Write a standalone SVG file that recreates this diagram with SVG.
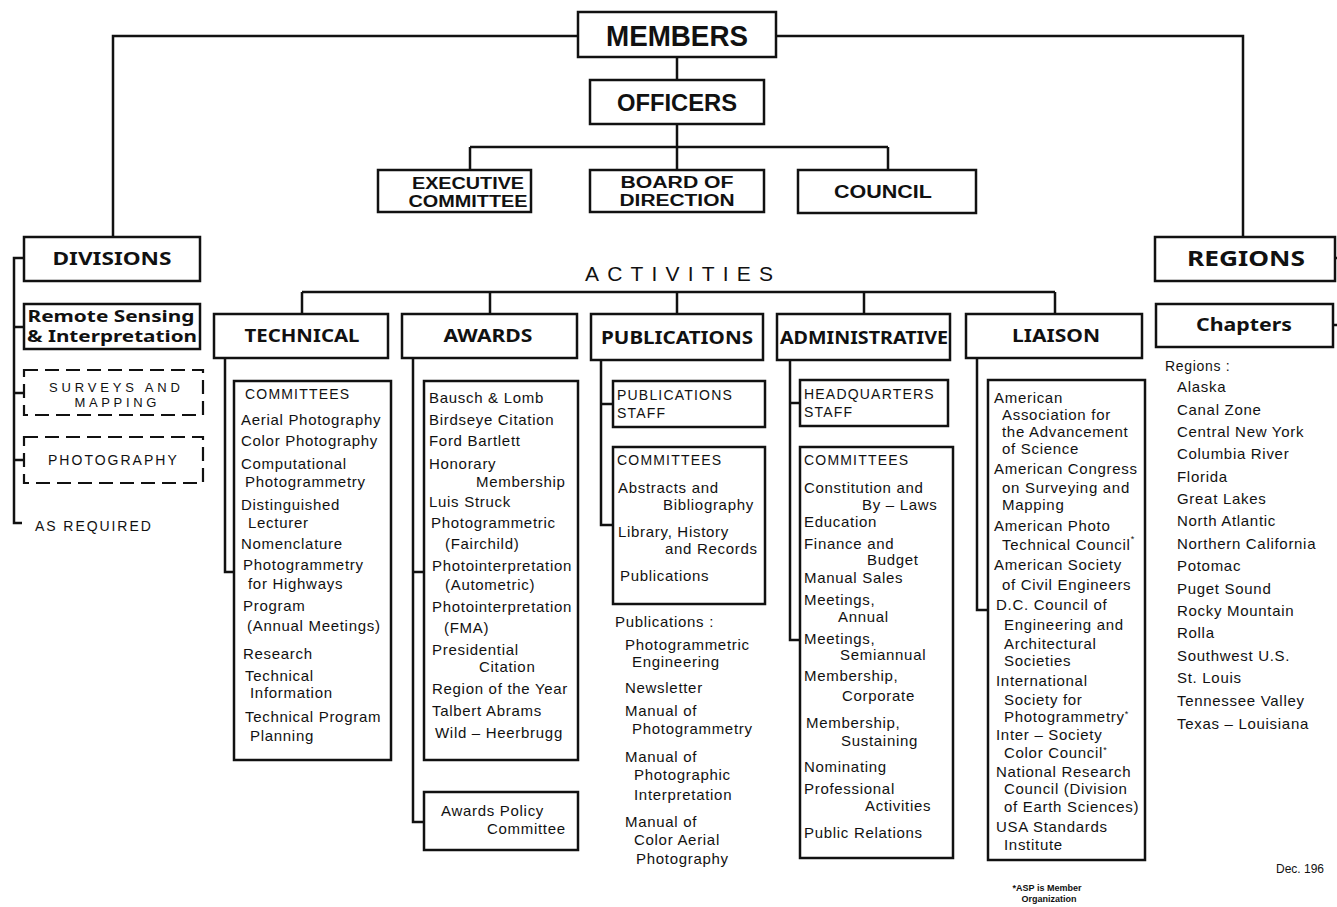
<svg xmlns="http://www.w3.org/2000/svg" width="1337" height="907" viewBox="0 0 1337 907">
<style>
.box{fill:#fff;stroke:#111;stroke-width:2.5}
.dash{fill:#fff;stroke:#111;stroke-width:2.2;stroke-dasharray:14 7}
.ln{fill:none;stroke:#111;stroke-width:2.5}
.hc{font-family:"Liberation Sans",Arial,sans-serif;font-weight:bold;text-anchor:middle;fill:#111}
.hb{font-family:"Noto Sans","DejaVu Sans",sans-serif;font-weight:bold;text-anchor:middle;fill:#111}
.t{font-family:"Liberation Sans",Arial,sans-serif;font-size:15px;letter-spacing:0.7px;fill:#111}
.c{font-family:"Liberation Sans",Arial,sans-serif;font-size:14px;letter-spacing:1.2px;fill:#111}
.sm{font-family:"Liberation Sans",Arial,sans-serif;font-size:9px;font-weight:bold;text-anchor:middle;fill:#111}
</style>
<rect width="1337" height="907" fill="#fff"/>

<g id="connectors">
<path class="ln" d="M578 36 H113 V237"/>
<path class="ln" d="M776 36 H1243 V237"/>
<path class="ln" d="M677 57 V80 M677 124 V147 M470 147 H888 M470 147 V170 M677 147 V170 M888 147 V170"/>
<path class="ln" d="M302 292 H1055 M302 292 V314 M490 292 V314 M677 292 V314 M864 292 V314 M1055 292 V314"/>
<path class="ln" d="M24 258 H14 V523 H22 M14 327 H24 M14 393 H24 M14 460 H24"/>
<path class="ln" d="M225 358 V572 H234"/>
<path class="ln" d="M413 358 V822 H424 M413 572 H424"/>
<path class="ln" d="M601 360 V525 H613 M601 404 H613"/>
<path class="ln" d="M790 360 V640 H800 M790 403 H800"/>
<path class="ln" d="M977 358 V610 H988"/>
<path class="ln" d="M1335 258 H1337 M1333 325 H1337"/>
</g>

<g id="members"><rect class="box" x="578" y="12" width="198" height="45"/>
<text class="hc" x="677" y="46" font-size="29" textLength="142" lengthAdjust="spacingAndGlyphs">MEMBERS</text></g>
<g id="officers"><rect class="box" x="590" y="80" width="174" height="44"/>
<text class="hc" x="677" y="111" font-size="23" textLength="120" lengthAdjust="spacingAndGlyphs">OFFICERS</text></g>
<g id="executive-committee"><rect class="box" x="378" y="170" width="153" height="42"/>
<text class="hc" x="468" y="189" font-size="16" textLength="112" lengthAdjust="spacingAndGlyphs">EXECUTIVE</text>
<text class="hc" x="468" y="207" font-size="16" textLength="119" lengthAdjust="spacingAndGlyphs">COMMITTEE</text></g>
<g id="board-of-direction"><rect class="box" x="590" y="170" width="174" height="42"/>
<text class="hc" x="677" y="188" font-size="16" textLength="113" lengthAdjust="spacingAndGlyphs">BOARD  OF</text>
<text class="hc" x="677" y="206" font-size="16" textLength="115" lengthAdjust="spacingAndGlyphs">DIRECTION</text></g>
<g id="council"><rect class="box" x="798" y="170" width="178" height="43"/>
<text class="hc" x="883" y="198" font-size="19" textLength="98" lengthAdjust="spacingAndGlyphs">COUNCIL</text></g>

<g id="activities"><text x="679" y="281" text-anchor="middle" font-family="Liberation Sans, Arial, sans-serif" font-size="21" fill="#111" textLength="188" lengthAdjust="spacing">ACTIVITIES</text></g>

<g id="divisions"><rect class="box" x="24" y="237" width="176" height="44"/>
<text class="hb" x="112" y="265" font-size="17" textLength="119" lengthAdjust="spacingAndGlyphs">DIVISIONS</text></g>
<g id="remote-sensing"><rect class="box" x="24" y="304" width="176" height="45"/>
<text class="hb" x="111" y="322" font-size="16" textLength="167" lengthAdjust="spacingAndGlyphs">Remote Sensing</text>
<text class="hb" x="112" y="342" font-size="16" textLength="170" lengthAdjust="spacingAndGlyphs">&amp; Interpretation</text></g>
<g id="surveys-mapping"><rect class="dash" x="24" y="370" width="179" height="45"/>
<text class="c" x="115" y="392" style="font-size:13px" text-anchor="middle" textLength="132" lengthAdjust="spacing">SURVEYS  AND</text>
<text class="c" x="116" y="407" style="font-size:13px" text-anchor="middle" textLength="83" lengthAdjust="spacing">MAPPING</text></g>
<g id="photography"><rect class="dash" x="24" y="437" width="179" height="46"/>
<text class="c" x="113" y="465" text-anchor="middle" textLength="130" lengthAdjust="spacing">PHOTOGRAPHY</text></g>
<g id="as-required"><text class="c" x="35" y="531" textLength="117" lengthAdjust="spacing">AS REQUIRED</text></g>

<g id="technical"><rect class="box" x="214" y="314" width="174" height="44"/>
<text class="hb" x="302" y="342" font-size="17" textLength="115" lengthAdjust="spacingAndGlyphs">TECHNICAL</text></g>
<g id="technical-committees"><rect class="box" x="234" y="381" width="157" height="379"/>
<text class="c" x="245" y="399">COMMITTEES</text>
<text class="t" x="241" y="425">Aerial Photography</text>
<text class="t" x="241" y="446">Color Photography</text>
<text class="t" x="241" y="469">Computational</text>
<text class="t" x="245" y="487">Photogrammetry</text>
<text class="t" x="241" y="510">Distinguished</text>
<text class="t" x="248" y="528">Lecturer</text>
<text class="t" x="241" y="549">Nomenclature</text>
<text class="t" x="243" y="570">Photogrammetry</text>
<text class="t" x="248" y="589">for Highways</text>
<text class="t" x="243" y="611">Program</text>
<text class="t" x="247" y="631">(Annual Meetings)</text>
<text class="t" x="243" y="659">Research</text>
<text class="t" x="245" y="681">Technical</text>
<text class="t" x="250" y="698">Information</text>
<text class="t" x="245" y="722">Technical Program</text>
<text class="t" x="250" y="741">Planning</text></g>

<g id="awards"><rect class="box" x="402" y="314" width="175" height="44"/>
<text class="hb" x="488" y="342" font-size="17" textLength="89" lengthAdjust="spacingAndGlyphs">AWARDS</text></g>
<g id="awards-list"><rect class="box" x="424" y="381" width="154" height="379"/>
<text class="t" x="429" y="403">Bausch &amp; Lomb</text>
<text class="t" x="429" y="425">Birdseye Citation</text>
<text class="t" x="429" y="446">Ford Bartlett</text>
<text class="t" x="429" y="469">Honorary</text>
<text class="t" x="476" y="487">Membership</text>
<text class="t" x="429" y="507">Luis Struck</text>
<text class="t" x="431" y="528">Photogrammetric</text>
<text class="t" x="445" y="549">(Fairchild)</text>
<text class="t" x="432" y="571">Photointerpretation</text>
<text class="t" x="445" y="590">(Autometric)</text>
<text class="t" x="432" y="612">Photointerpretation</text>
<text class="t" x="444" y="633">(FMA)</text>
<text class="t" x="432" y="655">Presidential</text>
<text class="t" x="479" y="672">Citation</text>
<text class="t" x="432" y="694">Region of the Year</text>
<text class="t" x="432" y="716">Talbert Abrams</text>
<text class="t" x="435" y="738">Wild – Heerbrugg</text></g>
<g id="awards-policy"><rect class="box" x="424" y="792" width="154" height="58"/>
<text class="t" x="441" y="816">Awards Policy</text>
<text class="t" x="487" y="834">Committee</text></g>

<g id="publications"><rect class="box" x="591" y="314" width="172" height="46"/>
<text class="hb" x="677" y="344" font-size="17" textLength="152" lengthAdjust="spacingAndGlyphs">PUBLICATIONS</text></g>
<g id="publications-staff"><rect class="box" x="613" y="381" width="152" height="46"/>
<text class="c" x="617" y="400">PUBLICATIONS</text>
<text class="c" x="617" y="418">STAFF</text></g>
<g id="publications-committees"><rect class="box" x="613" y="447" width="152" height="157"/>
<text class="c" x="617" y="465">COMMITTEES</text>
<text class="t" x="618" y="493">Abstracts and</text>
<text class="t" x="663" y="510">Bibliography</text>
<text class="t" x="618" y="537">Library, History</text>
<text class="t" x="665" y="554">and Records</text>
<text class="t" x="620" y="581">Publications</text></g>
<g id="publications-list">
<text class="t" x="615" y="627">Publications :</text>
<text class="t" x="625" y="650">Photogrammetric</text>
<text class="t" x="632" y="667">Engineering</text>
<text class="t" x="625" y="693">Newsletter</text>
<text class="t" x="625" y="716">Manual of</text>
<text class="t" x="632" y="734">Photogrammetry</text>
<text class="t" x="625" y="762">Manual of</text>
<text class="t" x="634" y="780">Photographic</text>
<text class="t" x="634" y="800">Interpretation</text>
<text class="t" x="625" y="827">Manual of</text>
<text class="t" x="634" y="845">Color Aerial</text>
<text class="t" x="636" y="864">Photography</text></g>

<g id="administrative"><rect class="box" x="777" y="314" width="173" height="46"/>
<text class="hb" x="864" y="344" font-size="17" textLength="168" lengthAdjust="spacingAndGlyphs">ADMINISTRATIVE</text></g>
<g id="headquarters-staff"><rect class="box" x="800" y="380" width="148" height="46"/>
<text class="c" x="804" y="399">HEADQUARTERS</text>
<text class="c" x="804" y="417">STAFF</text></g>
<g id="administrative-committees"><rect class="box" x="800" y="447" width="153" height="411"/>
<text class="c" x="804" y="465">COMMITTEES</text>
<text class="t" x="804" y="493">Constitution and</text>
<text class="t" x="862" y="510">By – Laws</text>
<text class="t" x="804" y="527">Education</text>
<text class="t" x="804" y="549">Finance and</text>
<text class="t" x="867" y="565">Budget</text>
<text class="t" x="804" y="583">Manual Sales</text>
<text class="t" x="804" y="605">Meetings,</text>
<text class="t" x="838" y="622">Annual</text>
<text class="t" x="804" y="644">Meetings,</text>
<text class="t" x="840" y="660">Semiannual</text>
<text class="t" x="804" y="681">Membership,</text>
<text class="t" x="842" y="701">Corporate</text>
<text class="t" x="806" y="728">Membership,</text>
<text class="t" x="841" y="746">Sustaining</text>
<text class="t" x="804" y="772">Nominating</text>
<text class="t" x="804" y="794">Professional</text>
<text class="t" x="865" y="811">Activities</text>
<text class="t" x="804" y="838">Public Relations</text></g>

<g id="liaison"><rect class="box" x="966" y="314" width="176" height="44"/>
<text class="hb" x="1056" y="342" font-size="17" textLength="88" lengthAdjust="spacingAndGlyphs">LIAISON</text></g>
<g id="liaison-list"><rect class="box" x="988" y="380" width="157" height="480"/>
<text class="t" x="994" y="403">American</text>
<text class="t" x="1002" y="420">Association for</text>
<text class="t" x="1002" y="437">the Advancement</text>
<text class="t" x="1002" y="454">of Science</text>
<text class="t" x="994" y="474">American Congress</text>
<text class="t" x="1002" y="493">on Surveying and</text>
<text class="t" x="1002" y="510">Mapping</text>
<text class="t" x="994" y="531">American Photo</text>
<text class="t" x="1002" y="550">Technical Council<tspan dy="-8" style="font-size:9px">*</tspan></text>
<text class="t" x="994" y="570">American Society</text>
<text class="t" x="1002" y="590">of Civil Engineers</text>
<text class="t" x="996" y="610">D.C. Council of</text>
<text class="t" x="1004" y="630">Engineering and</text>
<text class="t" x="1004" y="649">Architectural</text>
<text class="t" x="1004" y="666">Societies</text>
<text class="t" x="996" y="686">International</text>
<text class="t" x="1004" y="705">Society for</text>
<text class="t" x="1004" y="722">Photogrammetry<tspan dy="-5" style="font-size:9px">*</tspan></text>
<text class="t" x="996" y="740">Inter – Society</text>
<text class="t" x="1004" y="758">Color Council<tspan dy="-5" style="font-size:9px">*</tspan></text>
<text class="t" x="996" y="777">National Research</text>
<text class="t" x="1004" y="794">Council (Division</text>
<text class="t" x="1004" y="812">of Earth Sciences)</text>
<text class="t" x="996" y="832">USA Standards</text>
<text class="t" x="1004" y="850">Institute</text></g>
<g id="footnote">
<text class="sm" x="1047" y="891">*ASP is Member</text>
<text class="sm" x="1049" y="902">Organization</text></g>

<g id="regions"><rect class="box" x="1155" y="237" width="180" height="44"/>
<text class="hb" x="1246" y="266" font-size="21" textLength="118" lengthAdjust="spacingAndGlyphs">REGIONS</text></g>
<g id="chapters"><rect class="box" x="1156" y="304" width="177" height="43"/>
<text class="hb" x="1244" y="331" font-size="17" textLength="96" lengthAdjust="spacingAndGlyphs">Chapters</text></g>
<g id="regions-list">
<text class="t" x="1165" y="371" style="font-size:14px">Regions :</text>
<text class="t" x="1177" y="392">Alaska</text>
<text class="t" x="1177" y="415">Canal Zone</text>
<text class="t" x="1177" y="437">Central New York</text>
<text class="t" x="1177" y="459">Columbia River</text>
<text class="t" x="1177" y="482">Florida</text>
<text class="t" x="1177" y="504">Great Lakes</text>
<text class="t" x="1177" y="526">North Atlantic</text>
<text class="t" x="1177" y="549">Northern California</text>
<text class="t" x="1177" y="571">Potomac</text>
<text class="t" x="1177" y="594">Puget Sound</text>
<text class="t" x="1177" y="616">Rocky Mountain</text>
<text class="t" x="1177" y="638">Rolla</text>
<text class="t" x="1177" y="661">Southwest U.S.</text>
<text class="t" x="1177" y="683">St. Louis</text>
<text class="t" x="1177" y="706">Tennessee Valley</text>
<text class="t" x="1177" y="729">Texas – Louisiana</text></g>
<g id="date"><text class="t" x="1276" y="873" style="font-size:12px;letter-spacing:0">Dec. 196</text></g>
</svg>
